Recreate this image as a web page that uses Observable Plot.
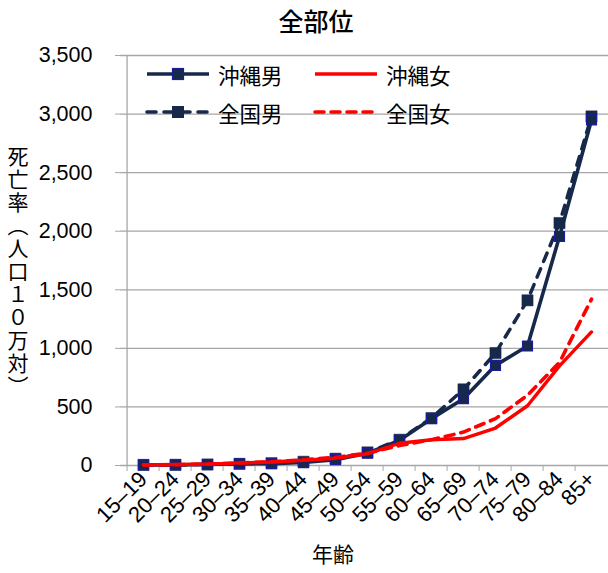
<!DOCTYPE html>
<html>
<head>
<meta charset="utf-8">
<script src="https://cdn.jsdelivr.net/npm/d3@7"></script>
<script src="https://cdn.jsdelivr.net/npm/@observablehq/plot@0.6"></script>
<style>
  html, body { margin: 0; padding: 0; background: #fff; overflow: hidden; }
  #wrap { position: relative; width: 608px; height: 573px; }
  .jp { font-family: "Noto Sans CJK JP", sans-serif; color: #000; position: absolute; }
  #title { top: 2px; left: 316px; transform: translateX(-50%); font-size: 25px; font-weight: 500; white-space: nowrap; }
  #ylab { left: 7px; top: 146px; writing-mode: vertical-rl; font-size: 21px; letter-spacing: 2px; line-height: 1; }
  #xlab { left: 333px; top: 538px; transform: translateX(-50%); font-size: 21px; white-space: nowrap; }
  #legend { position: absolute; left: 0; top: 0; width: 608px; height: 140px; pointer-events: none; }
  .item { position: absolute; display: flex; align-items: center; }
  .item span { font-family: "Noto Sans CJK JP", sans-serif; font-size: 21.5px; margin-left: 7px; }
</style>
</head>
<body>
<div id="wrap">
  <div id="chart"></div>
  <div id="title" class="jp">全部位</div>
  <div id="ylab" class="jp">死亡率（人口１０万対）</div>
  <div id="xlab" class="jp">年齢</div>
  <div id="legend"></div>
</div>
<script>
const ages = ["15–19","20–24","25–29","30–34","35–39","40–44","45–49","50–54","55–59","60–64","65–69","70–74","75–79","80–84","85+"];
const okinawaMale    = [5, 5, 8, 15, 15, 25, 50, 105, 215, 400, 570, 855, 1020, 1955, 2950];
const nationalMale   = [5, 6, 9, 14, 20, 32, 58, 112, 220, 405, 650, 960, 1410, 2070, 2980];
const okinawaFemale  = [5, 8, 12, 22, 30, 45, 62, 100, 190, 220, 230, 320, 510, 850, 1140];
const nationalFemale = [5, 7, 12, 22, 32, 48, 70, 105, 170, 220, 285, 400, 600, 880, 1420];
const yTicks = [0, 500, 1000, 1500, 2000, 2500, 3000, 3500];
const seriesNames = ["沖縄男", "沖縄女", "全国男", "全国女"];

const navy = "#16294b";
const markerEdge = "#1c1c9a";
const red = "#ff0000";
const gray = "#a6a6a6";

const toRows = (vals) => ages.map((a, i) => ({age: a, v: vals[i]}));
const om = toRows(okinawaMale), nm = toRows(nationalMale), of = toRows(okinawaFemale), nf = toRows(nationalFemale);

const x0 = 120, x1 = 613;
const halfBand = (x1 - x0) / ages.length / 2;

const chart = Plot.plot({
  width: 608,
  height: 573,
  marginTop: 55,
  marginBottom: 108,
  marginLeft: 120,
  marginRight: 0,
  style: {fontFamily: "'Liberation Sans', Arial, sans-serif", background: "white"},
  x: {type: "band", domain: ages, range: [x0, x1], padding: 0},
  y: {domain: [0, 3500]},
  marks: [
    Plot.ruleY(yTicks, {stroke: gray, strokeWidth: 1.3}),
    Plot.ruleX([ages[0]], {dx: -halfBand, y1: 0, y2: 3500, stroke: gray, strokeWidth: 1.3}),
    Plot.axisY({ticks: yTicks, tickSize: 5, tickPadding: 23, fontSize: 21.5, tickFormat: d3.format(","), stroke: gray, label: null, color: "#000"}),
    Plot.axisX({tickSize: 6, tickFormat: () => "", dx: -halfBand, stroke: gray, label: null}),
    Plot.axisX({tickSize: 0, tickPadding: 10, tickRotate: -45, fontSize: 22, label: null}),
    Plot.line(nm, {x: "age", y: "v", stroke: navy, strokeWidth: 3.5, strokeDasharray: "9,8", strokeLinecap: "round"}),
    Plot.dot(nm, {x: "age", y: "v", symbol: "square", r: 6.3, fill: navy, stroke: navy, strokeWidth: 0.5}),
    Plot.line(om, {x: "age", y: "v", stroke: navy, strokeWidth: 3.6}),
    Plot.dot(om, {x: "age", y: "v", symbol: "square", r: 5.6, fill: navy, stroke: markerEdge, strokeWidth: 1.2}),
    Plot.line(nf, {x: "age", y: "v", stroke: red, strokeWidth: 3.6, strokeDasharray: "9,7", strokeLinecap: "round"}),
    Plot.line(of, {x: "age", y: "v", stroke: red, strokeWidth: 3.4})
  ]
});
document.getElementById("chart").appendChild(chart);

// legend
const legend = document.getElementById("legend");
const legendSpec = [
  {name: seriesNames[0], color: navy, dash: null, marker: "edge", left: 145, top: 74},
  {name: seriesNames[1], color: red, dash: null, marker: null, left: 313, top: 74},
  {name: seriesNames[2], color: navy, dash: "9,8", marker: "fill", left: 145, top: 112},
  {name: seriesNames[3], color: red, dash: "9,7", marker: null, left: 313, top: 112}
];
for (const s of legendSpec) {
  const div = document.createElement("div");
  div.className = "item";
  div.style.left = s.left + "px";
  div.style.top = (s.top - 14) + "px";
  div.style.height = "28px";
  let svg = `<svg width="66" height="20" viewBox="0 0 66 20"><line x1="2" y1="10" x2="64" y2="10" stroke="${s.color}" stroke-width="3.6" ${s.dash ? `stroke-dasharray="${s.dash}" stroke-linecap="round"` : ""}/>`;
  if (s.marker === "edge") svg += `<rect x="27.5" y="4.5" width="11" height="11" fill="${navy}" stroke="${markerEdge}" stroke-width="1.2"/>`;
  if (s.marker === "fill") svg += `<rect x="27" y="4" width="12" height="12" fill="${navy}"/>`;
  svg += `</svg>`;
  div.innerHTML = svg + `<span>${s.name}</span>`;
  legend.appendChild(div);
}
</script>
</body>
</html>
